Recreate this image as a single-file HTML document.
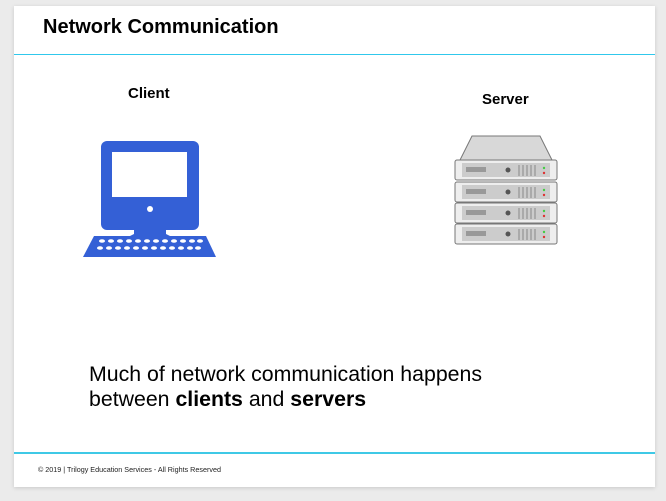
<!DOCTYPE html>
<html><head><style>
body{margin:0;width:666px;height:501px;background:#ebebeb;position:relative;overflow:hidden;font-family:"Liberation Sans",Arial,sans-serif}
#s{position:absolute;left:14px;top:6px;width:641px;height:481px;background:#fff;box-shadow:0 1px 4px rgba(0,0,0,.15)}
.t{position:absolute;white-space:nowrap;color:#000}
</style></head><body>
<div id="s"></div>
<div class="t" style="left:43px;top:16px;font-size:20px;font-weight:bold">Network Communication</div>
<div style="position:absolute;left:14px;top:54px;width:641px;height:1px;background:#30c8ec"></div>
<div class="t" style="left:128px;top:85px;font-size:15px;font-weight:bold">Client</div>
<div class="t" style="left:482px;top:91px;font-size:15px;font-weight:bold">Server</div>
<svg style="position:absolute;left:0;top:0" width="666" height="501">
<g fill="#3460d6">
<rect x="101" y="141" width="98" height="89" rx="6"/>
<path d="M134 228 L166 228 L166 234 L170 236 L130 236 L134 234Z"/>
<path d="M94 236 L206 236 L216 257 L83 257Z"/>
</g>
<rect x="112" y="152" width="75" height="45" fill="#fff"/>
<circle cx="150" cy="209" r="3" fill="#fff"/>
<g fill="#fff">
<g id="r1"><ellipse cx="102" cy="241" rx="3" ry="1.8"/><ellipse cx="111" cy="241" rx="3" ry="1.8"/><ellipse cx="120" cy="241" rx="3" ry="1.8"/><ellipse cx="129" cy="241" rx="3" ry="1.8"/><ellipse cx="138" cy="241" rx="3" ry="1.8"/><ellipse cx="147" cy="241" rx="3" ry="1.8"/><ellipse cx="156" cy="241" rx="3" ry="1.8"/><ellipse cx="165" cy="241" rx="3" ry="1.8"/><ellipse cx="174" cy="241" rx="3" ry="1.8"/><ellipse cx="183" cy="241" rx="3" ry="1.8"/><ellipse cx="192" cy="241" rx="3" ry="1.8"/><ellipse cx="200" cy="241" rx="3" ry="1.8"/></g>
<use href="#r1" transform="translate(-2,7)"/>
</g>
<g>
<path d="M472 136 L540 136 L552 160 L460 160Z" fill="#d8d8d8" stroke="#777"/>
<g id="u"><rect x="455" y="160" width="102" height="20" rx="2" fill="#eee" stroke="#777"/><rect x="462" y="163" width="88" height="14" fill="#ccc"/><rect x="466" y="167" width="20" height="5" fill="#999"/><circle cx="508" cy="170" r="2.5" fill="#555"/><g stroke="#888"><line x1="519" y1="165" x2="519" y2="176"/><line x1="523" y1="165" x2="523" y2="176"/><line x1="527" y1="165" x2="527" y2="176"/><line x1="531" y1="165" x2="531" y2="176"/><line x1="535" y1="165" x2="535" y2="176"/></g><circle cx="544" cy="168" r="1.2" fill="#4c4"/><circle cx="544" cy="173" r="1.2" fill="#d33"/></g>
<use href="#u" transform="translate(0,22)"/><use href="#u" transform="translate(0,43)"/><use href="#u" transform="translate(0,64)"/>
</g>
</svg>
<div class="t" style="left:89px;top:362px;font-size:21.3px;line-height:25px">Much of network communication happens<br>between <b>clients</b> and <b>servers</b></div>
<div style="position:absolute;left:14px;top:452px;width:641px;height:2px;background:#3fc9e6"></div>
<div class="t" style="left:38px;top:465px;font-size:7.2px;color:#222">© 2019 | Trilogy Education Services - All Rights Reserved</div>
</body></html>
